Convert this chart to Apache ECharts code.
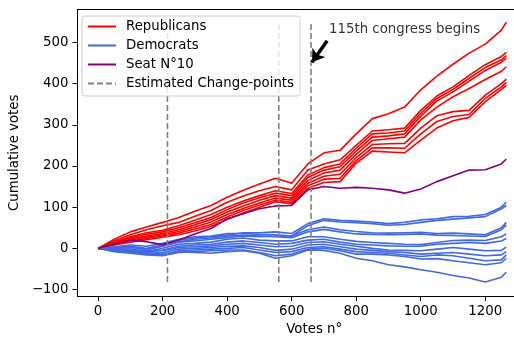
<!DOCTYPE html>
<html>
<head>
<meta charset="utf-8">
<script src="https://cdn.jsdelivr.net/npm/echarts@6/dist/echarts.min.js"></script>
<style>
  html, body { margin: 0; padding: 0; background: #fff; }
  #chart { width: 514px; height: 341px; }
</style>
</head>
<body>
<div id="chart"></div>
<script>
// vote index where each sample was read
const votes = [0, 50, 100, 150, 200, 250, 300, 350, 400, 450, 500, 550, 600, 650, 700, 750, 800, 850, 900, 950, 1000, 1050, 1100, 1150, 1200, 1250, 1265];

// cumulative votes, one array per seat
const republicans = [
  [0, 22, 40, 52, 63, 75, 90, 104, 124, 141, 156, 170, 158, 205, 232, 238, 278, 315, 327, 343, 385, 418, 447, 474, 496, 530, 549],
  [0, 18, 33, 45, 55, 63, 78, 92, 112, 127, 140, 150, 142, 190, 205, 215, 250, 285, 288, 292, 335, 370, 392, 420, 446, 466, 476],
  [0, 15, 28, 38, 44, 55, 68, 82, 100, 115, 128, 140, 133, 178, 196, 205, 243, 278, 280, 285, 328, 364, 386, 413, 439, 458, 468],
  [0, 14, 25, 34, 40, 50, 62, 75, 94, 110, 123, 134, 128, 172, 190, 198, 236, 270, 273, 278, 321, 358, 380, 406, 432, 452, 462],
  [0, 12, 22, 30, 36, 45, 57, 70, 88, 103, 117, 128, 122, 165, 183, 190, 228, 262, 266, 270, 312, 343, 368, 388, 410, 430, 441],
  [0, 11, 20, 27, 33, 41, 52, 64, 82, 97, 110, 122, 117, 158, 175, 180, 220, 252, 254, 255, 292, 322, 332, 335, 372, 400, 411],
  [0, 10, 18, 24, 30, 37, 47, 58, 76, 92, 105, 117, 112, 152, 168, 170, 213, 244, 244, 243, 278, 308, 320, 325, 364, 392, 403],
  [0, 8, 15, 21, 27, 33, 42, 53, 70, 86, 100, 113, 108, 146, 160, 162, 207, 236, 234, 232, 263, 292, 310, 318, 356, 386, 396]
];

const democrats = [
  [0, 2, 5, 0, 8, 20, 25, 28, 32, 38, 38, 40, 36, 60, 72, 68, 66, 64, 60, 63, 69, 72, 77, 78, 82, 100, 112],
  [0, -2, 3, -4, 5, 15, 18, 22, 26, 30, 28, 30, 30, 55, 68, 64, 62, 60, 56, 58, 63, 68, 71, 74, 77, 96, 104],
  [0, 4, 8, 5, 12, 22, 28, 30, 36, 36, 34, 33, 30, 45, 52, 45, 41, 38, 37, 38, 39, 36, 37, 35, 33, 50, 63],
  [0, 1, 2, -2, 6, 16, 22, 25, 30, 32, 30, 28, 26, 40, 46, 40, 35, 34, 33, 34, 35, 32, 31, 30, 29, 45, 57],
  [0, -3, -2, -8, 0, 10, 12, 15, 22, 25, 20, 18, 18, 28, 28, 22, 17, 14, 12, 10, 9, 14, 19, 20, 19, 28, 35],
  [0, -5, -6, -10, -4, 5, 8, 10, 15, 18, 14, 10, 12, 20, 22, 15, 10, 8, 6, 5, 5, 10, 12, 14, 12, 18, 24],
  [0, -2, -4, -6, -6, 2, 4, 6, 10, 12, 8, 4, 5, 14, 16, 10, 5, 0, -4, -5, -6, -2, 2, -2, -6, -5, 3],
  [0, -6, -8, -12, -10, -2, 0, 2, 5, 6, 2, -5, -2, 8, 10, 4, -2, -5, -8, -10, -14, -12, -10, -14, -18, -16, -8],
  [0, -4, -10, -14, -16, -6, -4, -2, 0, 2, -4, -10, -8, 2, 4, -2, -8, -10, -12, -16, -20, -16, -18, -24, -30, -28, -16],
  [0, -8, -12, -16, -18, -10, -8, -6, -4, -4, -10, -18, -14, -2, 0, -6, -14, -14, -16, -20, -26, -25, -30, -35, -40, -35, -24],
  [0, -5, -8, -12, -14, -8, -10, -12, -8, -6, -12, -24, -18, -4, -5, -12, -24, -30, -40, -45, -52, -58, -66, -72, -82, -70, -58]
];

const seat10 = [0, 10, 20, 16, 9, 20, 35, 48, 72, 84, 96, 103, 104, 142, 150, 146, 148, 146, 142, 134, 144, 162, 176, 190, 191, 205, 217];

const changePoints = [215, 560, 660];

const xTicks = [0, 200, 400, 600, 800, 1000, 1200];
const yTicks = [-100, 0, 100, 200, 300, 400, 500];

const noteText = "115th congress begins";
const notePos = [716, 531];
const arrowFrom = [710, 504];
const arrowTo = [663, 452];

const FONT = "DejaVu Sans";
const RED = "#ff0000";
const BLUE = "#4169e1";
const PURPLE = "#800080";
const GRAY = "#808080";

const allValues = [...republicans, ...democrats, seat10].flat();
const yLow = Math.min(...allValues);
const yHigh = Math.max(...allValues);

const toPoints = (arr) => votes.map((v, i) => [v, arr[i]]);

const lineSeries = (name, arr, color) => ({
  name,
  type: "line",
  data: toPoints(arr),
  symbol: "none",
  lineStyle: { width: 1.6, color },
  itemStyle: { color },
  silent: true
});

const series = [];
republicans.forEach((arr) => series.push(lineSeries("Republicans", arr, RED)));
democrats.forEach((arr) => series.push(lineSeries("Democrats", arr, BLUE)));
series.push(lineSeries("Seat N°10", seat10, PURPLE));
changePoints.forEach((cp) => {
  series.push({
    name: "Estimated Change-points",
    type: "line",
    data: [[cp, yLow], [cp, yHigh]],
    symbol: "none",
    lineStyle: { width: 1.6, color: GRAY, type: [6, 3] },
    itemStyle: { color: GRAY },
    silent: true
  });
});

// annotation text and arrow
series.push({
  name: "note",
  type: "scatter",
  data: [notePos],
  symbolSize: 0,
  silent: true,
  label: {
    show: true,
    position: [0, 0],
    align: "left",
    verticalAlign: "middle",
    formatter: noteText,
    color: "#000",
    fontFamily: FONT,
    fontSize: 13.3
  },
  markLine: {
    silent: true,
    symbol: ["none", "arrow"],
    symbolSize: 12,
    label: { show: false },
    lineStyle: { color: "#000", width: 3.5, type: "solid", opacity: 1 },
    itemStyle: { color: "#000" },
    data: [[{ coord: arrowFrom }, { coord: arrowTo }]]
  }
});

const chart = echarts.init(document.getElementById("chart"), null, { renderer: "canvas" });

const tickText = (v) => (v < 0 ? "\u2212" + Math.abs(v) : String(v));

const axisFont = { fontFamily: FONT, fontSize: 13.3, color: "#000" };

// the plot is cut off on the right, so the x range ends at the page edge
const X_MIN = -64;
const X_MAX = 1289;

chart.setOption({
  animation: false,
  grid: { left: 75, top: 9.5, right: 0, bottom: 38 },
  legend: {
    data: ["Republicans", "Democrats", "Seat N°10", "Estimated Change-points"],
    orient: "vertical",
    left: 82,
    top: 16,
    itemWidth: 28,
    itemHeight: 14,
    itemGap: 6,
    padding: [4, 6, 6, 5],
    backgroundColor: "rgba(255,255,255,0.8)",
    borderColor: "#cccccc",
    borderWidth: 1,
    borderRadius: 3,
    itemStyle: { opacity: 0 },
    textStyle: { ...axisFont, padding: [0, 0, 0, 5] }
  },
  xAxis: [
    {
      type: "value",
      min: X_MIN,
      max: X_MAX,
      name: "Votes n°",
      nameLocation: "middle",
      nameGap: 23,
      nameTextStyle: { ...axisFont, padding: [0, 0, 0, 37] },
      axisLine: { show: true, onZero: false, lineStyle: { color: "#000", width: 1 } },
      axisTick: { show: true, length: 5, lineStyle: { color: "#000" }, customValues: xTicks },
      axisLabel: { ...axisFont, customValues: xTicks, margin: 9, formatter: tickText },
      splitLine: { show: false }
    },
    {
      type: "value",
      position: "top",
      min: X_MIN,
      max: X_MAX,
      axisLine: { show: true, onZero: false, lineStyle: { color: "#000", width: 1 } },
      axisTick: { show: false },
      axisLabel: { show: false },
      splitLine: { show: false }
    }
  ],
  yAxis: {
    type: "value",
    min: -116,
    max: 580,
    name: "Cumulative votes",
    nameLocation: "middle",
    nameGap: 48,
    nameTextStyle: axisFont,
    axisLine: { show: true, onZero: false, lineStyle: { color: "#000", width: 1 } },
    axisTick: { show: true, length: 5, lineStyle: { color: "#000" }, customValues: yTicks },
    axisLabel: { ...axisFont, customValues: yTicks, margin: 9, formatter: tickText },
    splitLine: { show: false }
  },
  series
});
</script>
</body>
</html>
